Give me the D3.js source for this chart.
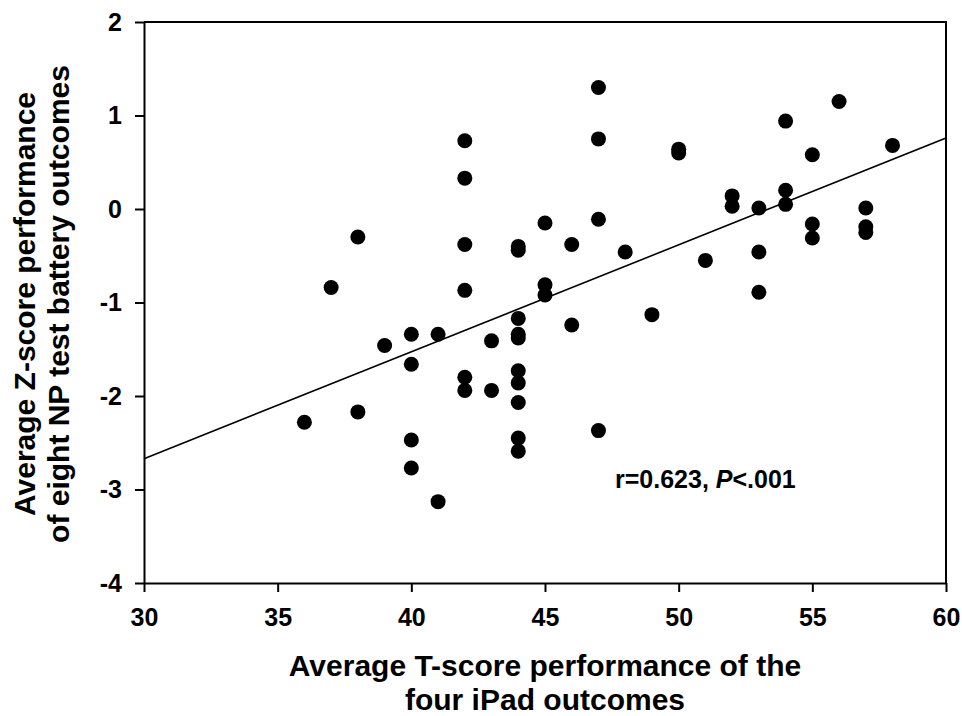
<!DOCTYPE html>
<html>
<head>
<meta charset="utf-8">
<script src="https://cdn.jsdelivr.net/npm/d3@7"></script>
<style>
  body { margin: 0; background: #fff; }
  text { font-family: "Liberation Sans", Arial, sans-serif; font-weight: bold; fill: #000; }
</style>
</head>
<body>
<div id="chart-area"></div>
<script>
// iPad T-score vs NP battery Z-score
var tScores = [36, 37, 38, 38, 39,
  40, 40, 40, 40, 41, 41,
  42, 42, 42, 42, 42, 42,
  43, 43,
  44, 44, 44, 44, 44, 44, 44, 44, 44, 44,
  45, 45, 45, 46, 46,
  47, 47, 47, 47, 48, 49, 50, 50, 51, 52, 52,
  53, 53, 53, 54, 54, 54, 55, 55, 55, 56,
  57, 57, 57, 58];
var zScores = [-2.28, -0.84, -0.30, -2.17, -1.46,
  -1.34, -1.66, -2.47, -2.77, -1.34, -3.13,
  0.73, 0.33, -0.38, -0.87, -1.80, -1.94,
  -1.41, -1.94,
  -0.40, -0.44, -1.17, -1.34, -1.38, -1.73, -1.86, -2.07, -2.45, -2.59,
  -0.15, -0.81, -0.92, -0.38, -1.24,
  1.30, 0.75, -0.11, -2.37, -0.46, -1.13, 0.64, 0.60, -0.55, 0.14, 0.03,
  0.01, -0.46, -0.89, 0.94, 0.20, 0.05, 0.58, -0.16, -0.31, 1.15,
  0.01, -0.19, -0.25, 0.68];

// fitted line at both ends
var fitX = [30, 60];
var fitY = [-2.67, 0.76];

var xTicks = [30, 35, 40, 45, 50, 55, 60];
var yTicks = [-4, -3, -2, -1, 0, 1, 2];

var margin = { left: 144, right: 16, top: 22, bottom: 133 };
var width = 962 - margin.left - margin.right,
    height = 716 - margin.top - margin.bottom;

var svg = d3.select("#chart-area")
  .append("svg")
    .attr("width", 962)
    .attr("height", 716);

var g = svg.append("g")
  .attr("transform", "translate(" + margin.left + ", " + margin.top + ")");

var x = d3.scaleLinear().domain([30, 60]).range([0, width]);
var y = d3.scaleLinear().domain([-4, 2]).range([height, 0]);

// frame (top and right)
g.append("path")
  .attr("d", "M0,0H" + width + "V" + height)
  .attr("fill", "none")
  .attr("stroke", "#000")
  .attr("stroke-width", 2);

var plain = function(d) { return String(d); };

var xAxisCall = d3.axisBottom(x).tickValues(xTicks).tickFormat(plain)
  .tickSize(9).tickPadding(16).tickSizeOuter(0);
var xAxisGroup = g.append("g")
  .attr("transform", "translate(0, " + height + ")")
  .call(xAxisCall);

var yAxisCall = d3.axisLeft(y).tickValues(yTicks).tickFormat(plain)
  .tickSize(9).tickPadding(13).tickSizeOuter(0);
var yAxisGroup = g.append("g").call(yAxisCall);

[xAxisGroup, yAxisGroup].forEach(function(ax) {
  ax.select(".domain").attr("stroke-width", 2);
  ax.selectAll(".tick line").attr("stroke-width", 2);
  ax.selectAll("text")
    .attr("font-size", "25px")
    .attr("font-family", "Liberation Sans, Arial, sans-serif")
    .attr("font-weight", "bold")
    .attr("fill", "#000");
});

// regression line
g.append("line")
  .attr("x1", x(fitX[0])).attr("y1", y(fitY[0]))
  .attr("x2", x(fitX[1])).attr("y2", y(fitY[1]))
  .attr("stroke", "#000")
  .attr("stroke-width", 1.6);

// points
g.selectAll("circle")
  .data(tScores)
  .enter().append("circle")
    .attr("cx", function(d) { return x(d); })
    .attr("cy", function(d, i) { return y(zScores[i]); })
    .attr("r", 7.5)
    .attr("fill", "#000");

// annotation
var note = g.append("text")
  .attr("x", 471)
  .attr("y", 466)
  .attr("font-size", "25px");
note.append("tspan").text("r=0.623, ");
note.append("tspan").attr("font-style", "italic").text("P");
note.append("tspan").text("<.001");

// X Label
var xLabel = svg.append("text")
  .attr("x", 545)
  .attr("y", 676)
  .attr("font-size", "30px")
  .attr("text-anchor", "middle");
xLabel.append("tspan").attr("x", 545).text("Average T-score performance of the");
xLabel.append("tspan").attr("x", 545).attr("dy", 34).text("four iPad outcomes");

// Y Label
var yLabel = svg.append("text")
  .attr("transform", "rotate(-90)")
  .attr("font-size", "30px")
  .attr("text-anchor", "middle");
yLabel.append("tspan").attr("x", -304).attr("y", 35).text("Average Z-score performance");
yLabel.append("tspan").attr("x", -304).attr("y", 69).text("of eight NP test battery outcomes");
</script>
</body>
</html>
